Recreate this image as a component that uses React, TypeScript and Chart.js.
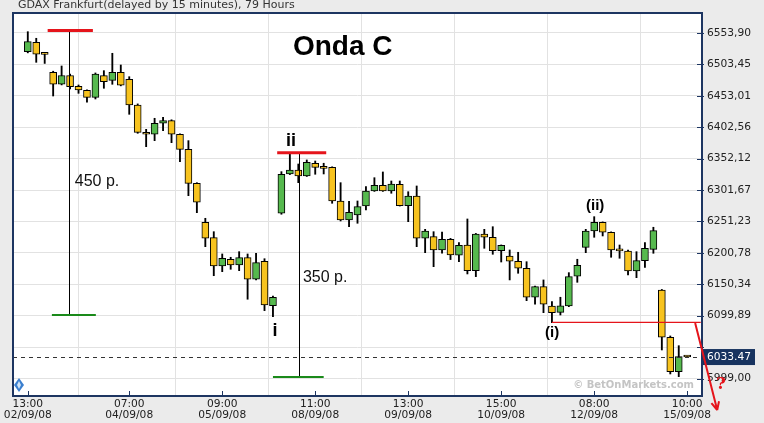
import React, { useEffect, useRef } from "react";
import { Chart, registerables } from "chart.js";

Chart.register(...registerables);

// ---- Data (hourly candles, 79 hours) ----
const opens = [
  6523.9, 6539.0, 6519.9, 6490.8, 6471.5, 6485.6, 6468.3, 6461.9, 6450.6, 6485.3,
  6477.9, 6490.8, 6479.5, 6438.3, 6394.4, 6391.2, 6408.9, 6413.1, 6391.2, 6367.1,
  6312.5, 6249.9, 6225.2, 6179.7, 6190.5, 6181.3, 6193.1, 6158.4, 6187.3, 6115.9,
  6264.4, 6327.5, 6333.9, 6324.3, 6344.7, 6336.8, 6338.2, 6284.1, 6253.6, 6261.6,
  6276.0, 6300.2, 6309.3, 6300.2, 6310.9, 6276.6, 6292.1, 6224.2, 6226.8, 6205.4,
  6222.6, 6196.9, 6213.4, 6172.2, 6231.1, 6225.8, 6204.3, 6195.8, 6187.3, 6176.1,
  6129.5, 6146.5, 6115.5, 6105.3, 6115.5, 6163.2, 6209.7, 6235.9, 6249.9, 6233.9,
  6204.5, 6203.8, 6171.7, 6188.2, 6206.5, 6141.2, 6065.2, 6010.0, 6034.0,
];
const highs = [
  6556.0, 6545.4, 6521.0, 6492.5, 6500.9, 6488.0, 6470.4, 6462.5, 6489.7, 6493.4,
  6521.3, 6502.5, 6483.7, 6440.0, 6399.2, 6416.9, 6418.5, 6414.5, 6392.0, 6381.0,
  6313.5, 6256.3, 6234.8, 6199.0, 6193.7, 6202.7, 6199.0, 6200.1, 6191.4, 6131.5,
  6331.2, 6360.7, 6343.5, 6350.0, 6348.3, 6344.7, 6339.0, 6313.5, 6283.6, 6284.1,
  6307.1, 6321.5, 6330.7, 6316.2, 6316.2, 6299.0, 6308.2, 6238.6, 6234.8, 6234.0,
  6224.0, 6217.1, 6255.2, 6232.0, 6238.6, 6242.8, 6213.5, 6205.4, 6201.7, 6186.6,
  6147.5, 6157.3, 6122.4, 6129.5, 6169.0, 6190.5, 6238.6, 6258.9, 6250.5, 6234.5,
  6213.4, 6205.4, 6202.7, 6217.1, 6241.9, 6142.0, 6067.3, 6051.7, 6035.0,
];
const lows = [
  6522.0, 6506.8, 6505.0, 6452.7, 6470.5, 6464.0, 6457.0, 6442.6, 6447.9, 6465.1,
  6471.5, 6469.0, 6423.3, 6392.8, 6371.3, 6381.0, 6397.0, 6377.7, 6347.2, 6292.6,
  6265.3, 6210.7, 6164.1, 6170.6, 6174.4, 6172.2, 6126.3, 6157.3, 6108.0, 6098.3,
  6262.8, 6326.5, 6313.5, 6323.5, 6327.0, 6327.5, 6280.4, 6252.0, 6242.8, 6248.3,
  6269.6, 6299.5, 6299.5, 6296.5, 6276.0, 6250.9, 6210.7, 6201.1, 6178.6, 6200.1,
  6190.0, 6186.6, 6166.9, 6162.6, 6208.1, 6198.5, 6186.1, 6157.3, 6168.0, 6124.0,
  6118.2, 6104.7, 6088.7, 6101.0, 6114.4, 6153.5, 6201.1, 6225.8, 6227.9, 6193.7,
  6192.1, 6165.3, 6160.9, 6177.6, 6200.1, 6044.8, 6006.3, 6002.0, 6033.0,
];
const closes = [
  6539.9, 6519.7, 6519.5, 6471.5, 6485.6, 6467.7, 6462.4, 6450.6, 6488.1, 6475.7,
  6490.8, 6469.9, 6438.3, 6394.4, 6391.2, 6408.9, 6413.1, 6391.2, 6367.1, 6312.5,
  6282.0, 6224.2, 6179.7, 6192.1, 6181.3, 6193.1, 6158.4, 6185.0, 6117.1, 6129.5,
  6327.0, 6333.9, 6324.3, 6346.3, 6338.2, 6336.4, 6284.1, 6253.6, 6265.9, 6275.0,
  6300.2, 6309.3, 6300.2, 6311.4, 6276.6, 6292.1, 6224.2, 6235.9, 6205.4, 6222.6,
  6197.4, 6212.9, 6172.2, 6231.1, 6225.8, 6204.3, 6212.9, 6187.3, 6176.1, 6129.5,
  6146.5, 6118.2, 6104.7, 6115.9, 6162.6, 6180.9, 6235.9, 6249.9, 6233.9, 6205.4,
  6204.1, 6171.7, 6188.2, 6208.1, 6236.4, 6065.2, 6010.0, 6034.1, 6033.47,
];

const xTickIndices = [0, 12, 23, 34, 45, 56, 67, 78];
const xTickTimes = ["13:00", "07:00", "09:00", "11:00", "13:00", "15:00", "08:00", "10:00"];
const xTickDates = ["02/09/08", "04/09/08", "05/09/08", "08/09/08", "09/09/08", "10/09/08", "12/09/08", "15/09/08"];

const yTickValues = [5999.0, 6049.45, 6099.89, 6150.34, 6200.78, 6251.23, 6301.67, 6352.12, 6402.56, 6453.01, 6503.45, 6553.9];
const yTickLabels = ["5999,00", "", "6099,89", "6150,34", "6200,78", "6251,23", "6301,67", "6352,12", "6402,56", "6453,01", "6503,45", "6553,90"];

const lastPrice = 6033.47;
const lastPriceLabel = "6033.47";

const headerText = "GDAX Frankfurt(delayed by 15 minutes), 79 Hours";
const titleText = "Onda C";
const watermarkText = "\u00A9 BetOnMarkets.com";

// Annotations in data coordinates (x = candle index, value = price)
const wave450 = { x: 4.85, top: 6557.9, bottom: 6101.0, redFrom: 2.35, redTo: 7.7, greenFrom: 2.85, greenTo: 8.05, label: "450 p.", labelX: 5.56, labelV: 6314.6 };
const wave350 = { x: 32.07, top: 6361.7, bottom: 6001.4, redFrom: 29.5, redTo: 35.3, greenFrom: 29.0, greenTo: 35.0, label: "350 p.", labelX: 32.55, labelV: 6161.2 };
const waveLabels = [
  { text: "ii", x: 31.13, v: 6379.6, size: 18 },
  { text: "i", x: 29.23, v: 6075.3, size: 18 },
  { text: "(ii)", x: 67.11, v: 6276.1, size: 15 },
  { text: "(i)", x: 62.02, v: 6072.1, size: 15 },
];
const titlePos = { x: 31.36, v: 6531.4 };
const supportLine = { from: 62.0, to: 79.6, v: 6089.3 };
const arrowLine = { x1: 78.94, v1: 6088.1, x2: 81.55, v2: 5948.4 };
const questionPos = { x: 82.0, v: 5988.6 };

const YELLOW = "#f7c31f";
const GREEN = "#56b94e";
const GRID = "#e2e2e2";
const FRAME = "#1d3561";
const BG = "#ebebeb";
const RED = "#e5141b";
const DARKGREEN = "#1a8a1a";

const decorPlugin = {
  id: "decor",
  beforeDraw(chart: any) {
    const { ctx, chartArea: a, width, height } = chart;
    ctx.save();
    ctx.fillStyle = BG;
    ctx.fillRect(0, 0, width, height);
    ctx.fillStyle = "#ffffff";
    ctx.fillRect(a.left, a.top, a.right - a.left, a.bottom - a.top);
    ctx.fillStyle = "#333333";
    ctx.font = '11px "DejaVu Sans"';
    ctx.textBaseline = "alphabetic";
    ctx.textAlign = "left";
    ctx.fillText(headerText, 18, 8);
    ctx.restore();
  },
  beforeDatasetsDraw(chart: any) {
    const { ctx, chartArea: a } = chart;
    ctx.save();
    ctx.fillStyle = "#c4c4c4";
    ctx.font = 'bold 10px "DejaVu Sans"';
    ctx.textAlign = "right";
    ctx.textBaseline = "alphabetic";
    ctx.fillText(watermarkText, a.right - 8, a.bottom - 8);
    // blue diamond icon
    const cx = a.left + 6, cy = a.bottom - 11;
    ctx.fillStyle = "#3b7fcf";
    ctx.beginPath();
    ctx.moveTo(cx, cy - 7); ctx.lineTo(cx + 5, cy); ctx.lineTo(cx, cy + 7); ctx.lineTo(cx - 5, cy); ctx.closePath();
    ctx.fill();
    ctx.fillStyle = "#cfe3f7";
    ctx.beginPath();
    ctx.moveTo(cx, cy - 4); ctx.lineTo(cx + 2, cy); ctx.lineTo(cx, cy + 4); ctx.lineTo(cx - 2, cy); ctx.closePath();
    ctx.fill();
    ctx.restore();
  },
  afterDraw(chart: any) {
    const { ctx, chartArea: a } = chart;
    const xs = chart.scales.x, ys = chart.scales.y;
    const px = (i: number) => xs.getPixelForValue(i);
    const py = (v: number) => ys.getPixelForValue(v);
    ctx.save();

    // dashed last-price line
    ctx.strokeStyle = "#333333";
    ctx.lineWidth = 1;
    ctx.setLineDash([4, 4]);
    const ly = Math.round(py(lastPrice)) + 0.5;
    ctx.beginPath();
    ctx.moveTo(a.left, ly);
    ctx.lineTo(a.right, ly);
    ctx.stroke();
    ctx.setLineDash([]);

    // wave measure lines
    for (const w of [wave450, wave350]) {
      ctx.strokeStyle = "#000";
      ctx.lineWidth = 1;
      const vx = Math.round(px(w.x)) + 0.5;
      ctx.beginPath();
      ctx.moveTo(vx, py(w.top));
      ctx.lineTo(vx, py(w.bottom));
      ctx.stroke();
      ctx.strokeStyle = RED;
      ctx.lineWidth = 3;
      ctx.beginPath();
      ctx.moveTo(px(w.redFrom), py(w.top));
      ctx.lineTo(px(w.redTo), py(w.top));
      ctx.stroke();
      ctx.strokeStyle = DARKGREEN;
      ctx.lineWidth = 2;
      ctx.beginPath();
      ctx.moveTo(px(w.greenFrom), py(w.bottom));
      ctx.lineTo(px(w.greenTo), py(w.bottom));
      ctx.stroke();
      ctx.fillStyle = "#111";
      ctx.font = '16px "Liberation Sans"';
      ctx.textAlign = "left";
      ctx.textBaseline = "middle";
      ctx.fillText(w.label, px(w.labelX), py(w.labelV));
    }

    // support line (i)
    ctx.strokeStyle = RED;
    ctx.lineWidth = 1.2;
    ctx.beginPath();
    ctx.moveTo(px(supportLine.from), py(supportLine.v));
    ctx.lineTo(Math.min(px(supportLine.to), a.right), py(supportLine.v));
    ctx.stroke();

    // frame
    ctx.strokeStyle = FRAME;
    ctx.lineWidth = 2;
    ctx.strokeRect(a.left, a.top, a.right - a.left, a.bottom - a.top);

    // inner tick marks
    ctx.lineWidth = 1;
    ctx.beginPath();
    for (const v of yTickValues) {
      const y = Math.round(py(v)) + 0.5;
      ctx.moveTo(a.right - 5, y);
      ctx.lineTo(a.right + 2, y);
    }
    for (const i of xTickIndices) {
      const x = Math.round(px(i)) + 0.5;
      ctx.moveTo(x, a.bottom - 5);
      ctx.lineTo(x, a.bottom);
    }
    ctx.stroke();

    // last price box
    const by = py(lastPrice);
    ctx.fillStyle = "#17335f";
    ctx.fillRect(a.right + 1, by - 8, 52, 16);
    ctx.fillStyle = "#ffffff";
    ctx.font = '10.67px "DejaVu Sans"';
    ctx.textAlign = "left";
    ctx.textBaseline = "middle";
    ctx.fillText(lastPriceLabel, a.right + 5, by);

    // title
    ctx.fillStyle = "#000";
    ctx.font = 'bold 28px "Liberation Sans"';
    ctx.textAlign = "left";
    ctx.textBaseline = "middle";
    ctx.fillText(titleText, px(titlePos.x), py(titlePos.v));

    // wave labels
    for (const l of waveLabels) {
      ctx.font = `bold ${l.size}px "Liberation Sans"`;
      ctx.textAlign = "center";
      ctx.fillText(l.text, px(l.x), py(l.v));
    }

    // arrow
    const x1 = px(arrowLine.x1), y1 = py(arrowLine.v1);
    const x2 = px(arrowLine.x2), y2 = py(arrowLine.v2);
    ctx.strokeStyle = RED;
    ctx.lineWidth = 2;
    ctx.beginPath();
    ctx.moveTo(x1, y1);
    ctx.lineTo(x2, y2);
    const ang = Math.atan2(y2 - y1, x2 - x1);
    const hl = 9;
    ctx.moveTo(x2, y2);
    ctx.lineTo(x2 - hl * Math.cos(ang - 0.45), y2 - hl * Math.sin(ang - 0.45));
    ctx.moveTo(x2, y2);
    ctx.lineTo(x2 - hl * Math.cos(ang + 0.45), y2 - hl * Math.sin(ang + 0.45));
    ctx.stroke();
    ctx.fillStyle = RED;
    ctx.font = 'bold 17px "DejaVu Serif"';
    ctx.textAlign = "center";
    ctx.fillText("?", px(questionPos.x), py(questionPos.v));

    ctx.restore();
  },
};

export default function App() {
  const canvasRef = useRef<HTMLCanvasElement | null>(null);

  useEffect(() => {
    const canvas = canvasRef.current;
    if (!canvas) return;
    const bodyColors = opens.map((o, i) => (closes[i] >= o ? GREEN : YELLOW));
    const chart = new Chart(canvas, {
      type: "bar",
      data: {
        datasets: [
          {
            label: "body",
            data: opens.map((o, i) => ({ x: i, y: [o, closes[i]] })) as any,
            backgroundColor: bodyColors,
            borderColor: "#000000",
            borderWidth: 1,
            borderSkipped: false,
            barThickness: 7,
            minBarLength: 2,
            grouped: false,
            order: 0,
          } as any,
          {
            label: "wick",
            data: highs.map((h, i) => ({ x: i, y: [lows[i], h] })) as any,
            backgroundColor: "#000000",
            borderWidth: 0,
            barThickness: 1.2,
            grouped: false,
            order: 1,
          } as any,
        ],
      },
      options: {
        animation: false,
        responsive: false,
        events: [],
        layout: { padding: { left: 13, top: 13, right: 0, bottom: 0 } },
        plugins: { legend: { display: false }, tooltip: { enabled: false } },
        scales: {
          x: {
            type: "linear",
            min: -1.75,
            max: 79.75,
            offset: false,
            border: { display: false },
            grid: { color: GRID, drawTicks: false, lineWidth: 1 },
            afterBuildTicks: (s: any) => {
              s.ticks = xTickIndices.map((v) => ({ value: v }));
            },
            afterFit: (s: any) => {
              s.height = 27;
              s.paddingLeft = 0;
              s.paddingRight = 0;
            },
            ticks: {
              autoSkip: false,
              maxRotation: 0,
              minRotation: 0,
              padding: 3,
              color: "#222222",
              font: { family: "DejaVu Sans", size: 10.67, lineHeight: 1.03 },
              callback: (v: any) => {
                const k = xTickIndices.indexOf(Number(v));
                return k >= 0 ? [xTickTimes[k], xTickDates[k]] : "";
              },
            },
          } as any,
          y: {
            type: "linear",
            position: "right",
            min: 5970.9,
            max: 6586.0,
            border: { display: false },
            grid: { color: GRID, drawTicks: false, lineWidth: 1 },
            afterBuildTicks: (s: any) => {
              s.ticks = yTickValues.map((v) => ({ value: v }));
            },
            afterFit: (s: any) => {
              s.width = 62;
              s.paddingTop = 0;
              s.paddingBottom = 0;
            },
            ticks: {
              padding: 5,
              color: "#222222",
              font: { family: "DejaVu Sans", size: 10.67 },
              callback: (v: any) => {
                const k = yTickValues.indexOf(Number(v));
                return k >= 0 ? yTickLabels[k] : "";
              },
            },
          } as any,
        },
      },
      plugins: [decorPlugin],
    });
    return () => chart.destroy();
  }, []);

  return (
    <div style={{ position: "fixed", left: 0, top: 0, width: 764, height: 423 }}>
      <canvas ref={canvasRef} width={764} height={423} style={{ display: "block", width: 764, height: 423 }} />
    </div>
  );
}
